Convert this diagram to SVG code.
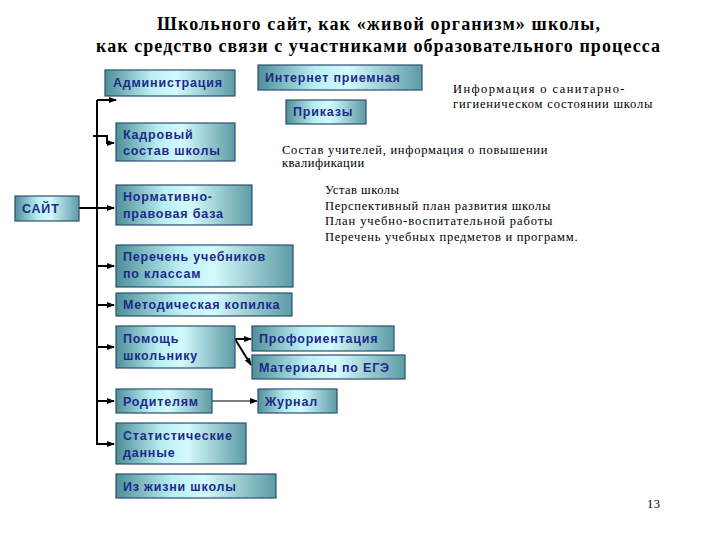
<svg xmlns="http://www.w3.org/2000/svg" width="720" height="540" viewBox="0 0 720 540">
<defs>
<linearGradient id="g" x1="0" y1="0" x2="1" y2="0">
<stop offset="0" stop-color="#4e8f98"/><stop offset="0.35" stop-color="#b9eef2"/><stop offset="0.55" stop-color="#d4fafc"/><stop offset="1" stop-color="#5d9ba4"/>
</linearGradient>
<marker id="a" markerWidth="8" markerHeight="8" refX="7" refY="4" orient="auto" markerUnits="userSpaceOnUse"><path d="M0,1 L8,4 L0,7 Z" fill="#000"/></marker>
</defs>
<style>
.b{fill:url(#g);stroke:#2b4f72;stroke-width:1.2}
.t{font-family:"Liberation Sans",Arial,sans-serif;font-weight:bold;font-size:12.5px;fill:#1d2a8a;letter-spacing:0.8px}
.s{font-family:"Liberation Serif","Times New Roman",serif;font-size:12.5px;fill:#000;letter-spacing:0.5px}
.h{font-family:"Liberation Serif","Times New Roman",serif;font-weight:bold;font-size:18px;fill:#000}
.c{stroke:#000;stroke-width:2;fill:none}
.d{stroke:#000;stroke-width:1.2;fill:none}
</style>
<rect width="720" height="540" fill="#fff"/>
<text class="h" x="157" y="30" textLength="443" lengthAdjust="spacing">Школьного сайт, как «живой организм» школы,</text>
<text class="h" x="96" y="52" textLength="564" lengthAdjust="spacing">как средство связи с  участниками образовательного процесса</text>
<g id="connectors">
<path class="c" d="M79,208 H97"/>
<path class="c" d="M97,100 V444 H114" marker-end="url(#a)"/>
<path class="c" d="M97,100 H116" marker-end="url(#a)"/>
<path class="c" d="M93,136 H107 V143 H114" marker-end="url(#a)"/>
<path class="c" d="M97,208 H114" marker-end="url(#a)"/>
<path class="c" d="M97,266 H114" marker-end="url(#a)"/>
<path class="c" d="M97,305 H114" marker-end="url(#a)"/>
<path class="c" d="M97,347 H114" marker-end="url(#a)"/>
<path class="c" d="M97,401 H114" marker-end="url(#a)"/>
<path class="c" d="M235,339 H251" marker-end="url(#a)"/>
<path class="c" d="M235,339 L251,365" marker-end="url(#a)"/>
<path class="d" d="M212,401 H257" marker-end="url(#a)"/>
</g>
<g id="n-sayt"><rect class="b" x="15" y="196" width="64" height="25"/><text class="t" x="22" y="213">САЙТ</text></g>
<g id="n-admin"><rect class="b" x="105" y="70" width="130" height="26"/><text class="t" x="113" y="87">Администрация</text></g>
<g id="n-internet"><rect class="b" x="258" y="65" width="164" height="25"/><text class="t" x="265" y="82">Интернет приемная</text></g>
<g id="n-prikazy"><rect class="b" x="286" y="100" width="80" height="24"/><text class="t" x="293" y="116">Приказы</text></g>
<g id="n-kadry"><rect class="b" x="116" y="123" width="119" height="38"/><text class="t" x="123" y="139">Кадровый</text><text class="t" x="123" y="155">состав школы</text></g>
<g id="n-norm"><rect class="b" x="116" y="185" width="136" height="40"/><text class="t" x="123" y="201">Нормативно-</text><text class="t" x="123" y="218">правовая база</text></g>
<g id="n-uchebn"><rect class="b" x="116" y="245" width="177" height="42"/><text class="t" x="123" y="261">Перечень учебников</text><text class="t" x="123" y="278">по классам</text></g>
<g id="n-metod"><rect class="b" x="116" y="293" width="176" height="23"/><text class="t" x="123" y="309">Методическая копилка</text></g>
<g id="n-pomosh"><rect class="b" x="116" y="326" width="119" height="42"/><text class="t" x="123" y="343">Помощь</text><text class="t" x="123" y="360">школьнику</text></g>
<g id="n-prof"><rect class="b" x="252" y="326" width="142" height="25"/><text class="t" x="259" y="343">Профориентация</text></g>
<g id="n-ege"><rect class="b" x="252" y="355" width="153" height="24"/><text class="t" x="259" y="372">Материалы по ЕГЭ</text></g>
<g id="n-rodit"><rect class="b" x="116" y="389" width="96" height="24"/><text class="t" x="123" y="406">Родителям</text></g>
<g id="n-zhurnal"><rect class="b" x="258" y="389" width="79" height="24"/><text class="t" x="265" y="406">Журнал</text></g>
<g id="n-stat"><rect class="b" x="116" y="423" width="130" height="41"/><text class="t" x="123" y="440">Статистические</text><text class="t" x="123" y="457">данные</text></g>
<g id="n-zhizn"><rect class="b" x="116" y="474" width="160" height="24"/><text class="t" x="123" y="491">Из жизни школы</text></g>
<text class="s" x="453" y="93" textLength="172" lengthAdjust="spacing">Информация о санитарно-</text>
<text class="s" x="453" y="108" textLength="200" lengthAdjust="spacing">гигиеническом состоянии школы</text>
<text class="s" x="282" y="154" textLength="266" lengthAdjust="spacing">Состав учителей, информация о повышении</text>
<text class="s" x="282" y="167">квалификации</text>
<text class="s" x="325" y="194">Устав школы</text>
<text class="s" x="325" y="210" textLength="226" lengthAdjust="spacing">Перспективный план развития школы</text>
<text class="s" x="325" y="225" textLength="228" lengthAdjust="spacing">План учебно-воспитательной работы</text>
<text class="s" x="325" y="241" textLength="253" lengthAdjust="spacing">Перечень учебных предметов и программ.</text>
<text class="s" x="647" y="508">13</text>
</svg>
